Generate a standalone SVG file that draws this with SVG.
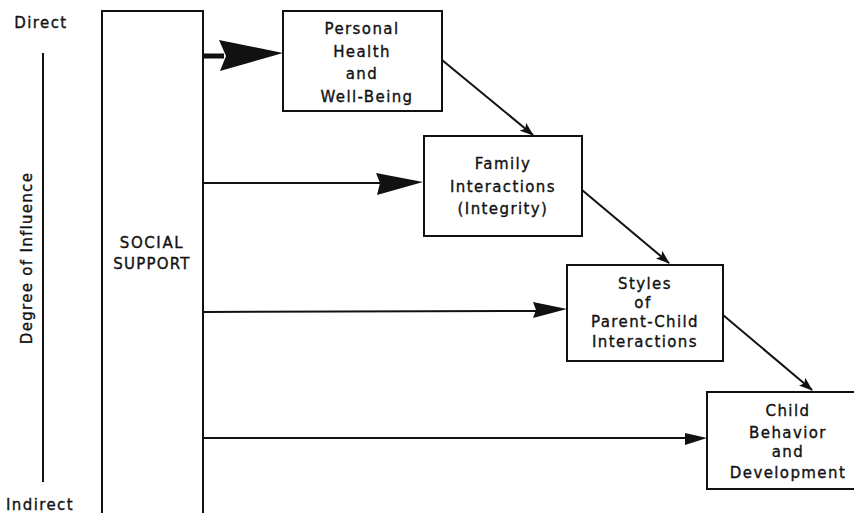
<svg xmlns="http://www.w3.org/2000/svg" width="854" height="513" viewBox="0 0 854 513">
<style>
text{font-family:"DejaVu Sans","Liberation Sans",sans-serif;font-size:15px;fill:#111;stroke:#111;stroke-width:0.35px;letter-spacing:1.4px;text-anchor:middle}
.box{fill:#fff;stroke:#111;stroke-width:2}
.ln{stroke:#111;stroke-width:2;fill:none}
.ah{fill:#111;stroke:none}
</style>
<defs>
<marker id="arr" viewBox="0 0 14 10" refX="13" refY="5" markerWidth="14" markerHeight="10" markerUnits="userSpaceOnUse" orient="auto"><path d="M0,0 L14,5 L0,10 L3,5 z" fill="#111"/></marker>
</defs>
<rect width="854" height="513" fill="#fff"/>
<g id="axis">
<text x="41" y="28">Direct</text>
<text x="40" y="510">Indirect</text>
<line class="ln" x1="43" y1="53" x2="43" y2="482"/>
<text transform="translate(32,258) rotate(-90)" style="letter-spacing:1.3px">Degree of Influence</text>
</g>
<g id="social-support">
<rect class="box" x="102" y="11" width="101" height="510"/>
<text x="152" y="248" style="letter-spacing:1.6px">SOCIAL</text>
<text x="152" y="269" style="letter-spacing:1.2px">SUPPORT</text>
</g>
<g id="personal-health">
<rect class="box" x="283" y="11" width="159" height="100"/>
<text x="362" y="34">Personal</text>
<text x="362" y="57">Health</text>
<text x="362" y="79">and</text>
<text x="367" y="102">Well-Being</text>
</g>
<g id="family-interactions">
<rect class="box" x="424" y="136" width="158" height="100"/>
<text x="503" y="169">Family</text>
<text x="503" y="192">Interactions</text>
<text x="503" y="214">(Integrity)</text>
</g>
<g id="parent-child">
<rect class="box" x="567" y="265" width="156" height="96"/>
<text x="645" y="289">Styles</text>
<text x="643" y="308">of</text>
<text x="645" y="327">Parent-Child</text>
<text x="645" y="347">Interactions</text>
</g>
<g id="child-behavior">
<rect class="box" x="707" y="392" width="160" height="97"/>
<text x="788" y="416">Child</text>
<text x="788" y="438">Behavior</text>
<text x="788" y="457">and</text>
<text x="788" y="478">Development</text>
</g>
<g id="connectors">
<line class="ln" x1="203" y1="56" x2="224" y2="56" style="stroke-width:5"/>
<polygon class="ah" points="219,40 283,53 220,71 226,56"/>
<line class="ln" x1="203" y1="183" x2="380" y2="183"/>
<polygon class="ah" points="376,173 423,182 377,195 380,183"/>
<line class="ln" x1="203" y1="312" x2="536" y2="311"/>
<polygon class="ah" points="533,302 567,309 533,318 536,310"/>
<line class="ln" x1="203" y1="438" x2="690" y2="438"/>
<polygon class="ah" points="685,433 707,438 685,445"/>
<line class="ln" x1="442" y1="60" x2="533" y2="135" marker-end="url(#arr)"/>
<line class="ln" x1="582" y1="190" x2="669" y2="263" marker-end="url(#arr)"/>
<line class="ln" x1="723" y1="315" x2="812" y2="390" marker-end="url(#arr)"/>
</g>
</svg>
